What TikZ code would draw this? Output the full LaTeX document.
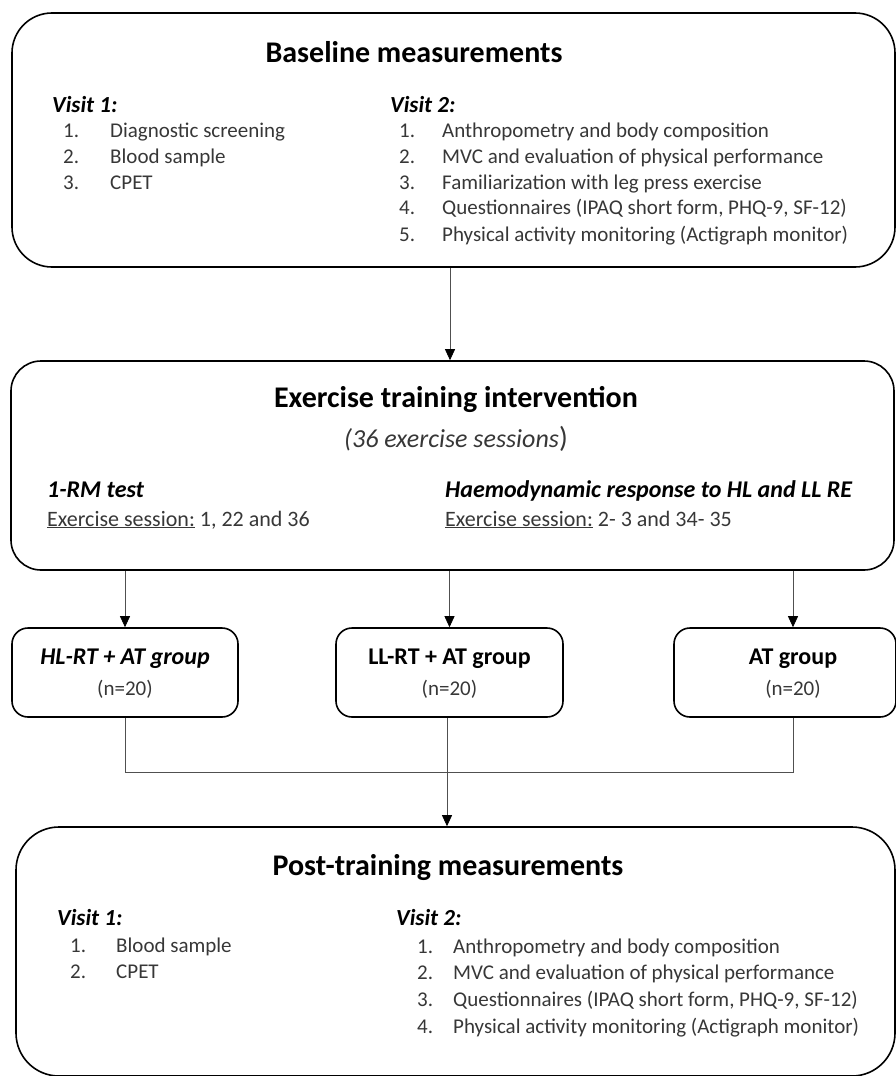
\documentclass[tikz,border=0pt]{standalone}
\usepackage{fontspec}
\setmainfont{Carlito}
\usepackage{tikz}
\usetikzlibrary{arrows.meta,calc,shapes}
\definecolor{itemgray}{RGB}{55,55,55}
\definecolor{linegray}{RGB}{80,80,80}
\tikzset{
    bigbox/.style={draw, rounded corners=#1, line width=1.6pt, inner sep=0pt, minimum width=883pt},
    groupbox/.style={draw, rounded corners=16pt, line width=1.6pt, inner sep=0pt, minimum height=89pt},
    conn/.style={draw=linegray, line width=0.8pt},
    tip/.tip={Triangle[length=11pt,width=10pt,color=black]},
    boxtitle/.style={anchor=base, inner sep=0pt, font=\fontsize{30}{35}\selectfont\bfseries},
    visit/.style={anchor=base west, inner sep=0pt, font=\fontsize{23}{27}\selectfont\bfseries\itshape},
    item/.style={anchor=base west, inner sep=0pt, text=itemgray, font=\fontsize{21}{25}\selectfont},
    grptitle/.style={anchor=base, inner sep=0pt, font=\fontsize{24}{28}\selectfont\bfseries},
    grpn/.style={anchor=base, inner sep=0pt, text=itemgray, font=\fontsize{21}{25}\selectfont}
}

\begin{document}
\begin{tikzpicture}[x=1pt,y=-1pt]
\useasboundingbox (0,0) rectangle (896,1076);

\node[bigbox=40pt, minimum height=254pt] (base) at (453.5,140) {};
\node[bigbox=30pt, minimum height=209pt] (exer) at (452.5,465.5) {};
\node[bigbox=43pt, minimum width=879pt, minimum height=249pt] (post) at (455.5,951.5) {};
\node[groupbox, minimum width=226pt] (hl) at (125,672.5) {};
\node[groupbox, minimum width=227pt] (ll) at (449.5,672.5) {};
\node[groupbox, minimum width=222pt] (atg) at (785,672.5) {};

\node[boxtitle] (t1) at (414,62) {Baseline measurements};
\node[visit] (v1) at (52,112) {Visit 1:};
\node[item] (n11) at (63,137) {1.};
\node[item] (n12) at (63,163) {2.};
\node[item] (n13) at (63,189) {3.};
\node[item] (i11) at (110,137) {Diagnostic screening};
\node[item] (i12) at (110,163) {Blood sample};
\node[item] (i13) at (110,189) {CPET};
\node[visit] (v2) at (390,112) {Visit 2:};
\node[item] (n21) at (399,137) {1.};
\node[item] (n22) at (399,163) {2.};
\node[item] (n23) at (399,189) {3.};
\node[item] (n24) at (399,214) {4.};
\node[item] (n25) at (399,241) {5.};
\node[item] (i21) at (442,137) {Anthropometry and body composition};
\node[item] (i22) at (442,163) {MVC and evaluation of physical performance};
\node[item] (i23) at (442,189) {Familiarization with leg press exercise};
\node[item] (i24) at (442,214) {Questionnaires (IPAQ short form, PHQ-9, SF-12)};
\node[item] (i25) at (442,241) {Physical activity monitoring (Actigraph monitor)};

\node[boxtitle] (t2) at (456,407) {Exercise training intervention};
\node[anchor=base, inner sep=0pt, text=itemgray, font=\fontsize{26}{30}\selectfont] (t2s) at (456,447) {\textit{(36 exercise sessions}\fontsize{29}{33}\selectfont)};
\node[visit, font=\fontsize{24}{28}\selectfont\bfseries\itshape] (rm) at (47,497) {1-RM test};
\node[item, font=\fontsize{22}{26}\selectfont] (rms) at (47,526) {\underline{Exercise session:} 1, 22 and 36};
\node[visit, font=\fontsize{24}{28}\selectfont\bfseries\itshape] (hd) at (445,497) {Haemodynamic response to HL and LL RE};
\node[item, font=\fontsize{22}{26}\selectfont] (hds) at (445,526) {\underline{Exercise session:} 2- 3 and 34- 35};

\node[grptitle] (g1) at (125,664) {\itshape HL-RT + AT group};
\node[grpn] (g1n) at (125,695) {(n=20)};
\node[grptitle] (g2) at (449.5,664) {LL-RT + AT group};
\node[grpn] (g2n) at (449.5,695) {(n=20)};
\node[grptitle] (g3) at (793,664) {AT group};
\node[grpn] (g3n) at (793,695) {(n=20)};

\node[boxtitle] (t4) at (448,875) {Post-training measurements};
\node[visit] (w1) at (57,925) {Visit 1:};
\node[item] (m11) at (70,952) {1.};
\node[item] (m12) at (70,978) {2.};
\node[item] (j11) at (116,952) {Blood sample};
\node[item] (j12) at (116,978) {CPET};
\node[visit] (w2) at (396,925) {Visit 2:};
\node[item] (m21) at (417,953) {1.};
\node[item] (m22) at (417,979) {2.};
\node[item] (m23) at (417,1006) {3.};
\node[item] (m24) at (417,1033) {4.};
\node[item] (j21) at (453,953) {Anthropometry and body composition};
\node[item] (j22) at (453,979) {MVC and evaluation of physical performance};
\node[item] (j23) at (453,1006) {Questionnaires (IPAQ short form, PHQ-9, SF-12)};
\node[item] (j24) at (453,1033) {Physical activity monitoring (Actigraph monitor)};

\coordinate (a1) at (450,0);
\coordinate (a3) at (793,0);
\coordinate (jn) at (447,772);

\draw[conn, -tip] (base.south -| a1) -- (exer.north -| a1);
\draw[conn, -tip] (exer.south -| hl.north) -- (hl.north);
\draw[conn, -tip] (exer.south -| ll.north) -- (ll.north);
\draw[conn, -tip] (exer.south -| a3) -- (atg.north -| a3);
\draw[conn] (hl.south) |- (jn);
\draw[conn] (atg.south -| a3) |- (jn);
\draw[conn] (ll.south -| jn) -- (jn);
\draw[conn, -tip] (jn) -- (post.north -| jn);
\end{tikzpicture}
\end{document}
